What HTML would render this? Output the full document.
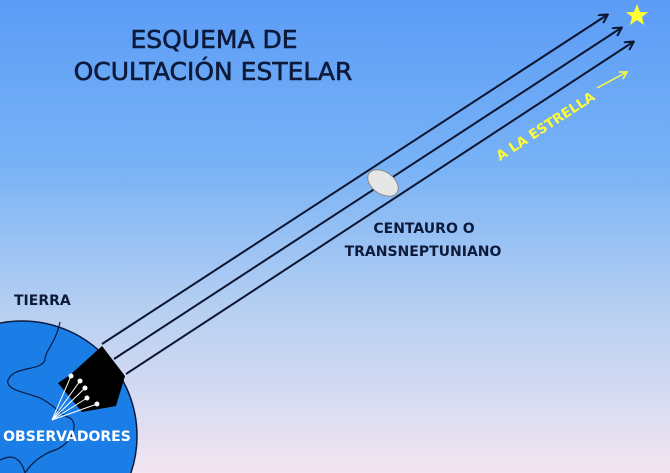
<!DOCTYPE html>
<html><head><style>
html,body{margin:0;padding:0;width:670px;height:473px;overflow:hidden}
body{background:linear-gradient(180deg,#5b9cf6 0%,#78b2f6 35%,#b5cff2 65%,#f3e5f1 100%);font-family:"DejaVu Sans","Liberation Sans",sans-serif}
svg{display:block}
</style></head><body>
<svg width="670" height="473" viewBox="0 0 670 473" xmlns="http://www.w3.org/2000/svg" style="position:absolute;left:0;top:0">
<defs><marker id="a" markerWidth="10" markerHeight="10" refX="8" refY="5" orient="auto" markerUnits="userSpaceOnUse"><path d="M0,0 L9,5 L0,10" fill="none" stroke="#0b1530" stroke-width="2"/></marker></defs>
<circle cx="22" cy="436" r="115" fill="#1a7ee6" stroke="#0a1a40" stroke-width="1.5"/>
<path d="M60,322 C55,345 45,350 45,360 C40,372 15,365 8,380 C5,390 25,392 40,398 C55,405 60,415 70,418 C80,425 70,445 55,450 C40,455 30,465 25,473" fill="none" stroke="#0a1a40" stroke-width="1.2"/>
<path d="M0,460 C10,455 20,455 25,473" fill="none" stroke="#0a1a40" stroke-width="1.2"/>
<path d="M102,346 L125,376 L116,406 L82,412 L58,383 L70,375 Z" fill="#000"/>
<g stroke="#fff" stroke-width="1"><line x1="52" y1="420" x2="71" y2="376"/><line x1="52" y1="420" x2="80" y2="381"/><line x1="52" y1="420" x2="85" y2="388"/><line x1="52" y1="420" x2="87" y2="398"/><line x1="52" y1="420" x2="97" y2="404"/></g>
<g fill="#fff"><circle cx="71" cy="376" r="2.5"/><circle cx="80" cy="381" r="2.5"/><circle cx="85" cy="388" r="2.5"/><circle cx="87" cy="398" r="2.5"/><circle cx="97" cy="404" r="2.5"/></g>
<g stroke="#0b1530" stroke-width="2" marker-end="url(#a)">
<line x1="102" y1="344" x2="607" y2="15"/>
<line x1="114" y1="359" x2="621" y2="28"/>
<line x1="126" y1="374" x2="633" y2="42"/>
</g>
<ellipse cx="383" cy="183" rx="17" ry="11" transform="rotate(35 383 183)" fill="#e6e6e6" stroke="#888" stroke-width="1"/>
<polygon points="637,4 640,12 648,12 642,17 644,25 637,20 630,25 632,17 626,12 634,12" fill="#ffff33"/>
<line x1="597" y1="88" x2="625" y2="73" stroke="#ffff33" stroke-width="1.5"/>
<path d="M619,72 L627,72 L623,79" fill="none" stroke="#ffff33" stroke-width="1.5"/>
<text x="548" y="130" transform="rotate(-33 548 130)" text-anchor="middle" font-size="13.5" font-weight="bold" fill="#ffff33">A LA ESTRELLA</text>
<text x="214" y="48" text-anchor="middle" font-size="25" fill="#0d1a3a" stroke="#0d1a3a" stroke-width="0.6">ESQUEMA DE</text>
<text x="213" y="80" text-anchor="middle" font-size="25" fill="#0d1a3a" stroke="#0d1a3a" stroke-width="0.6">OCULTACIÓN ESTELAR</text>
<text x="424" y="233" text-anchor="middle" font-size="14" font-weight="bold" fill="#0d1a3a">CENTAURO O</text>
<text x="423" y="256" text-anchor="middle" font-size="14" font-weight="bold" fill="#0d1a3a">TRANSNEPTUNIANO</text>
<text x="14" y="305" font-size="14" font-weight="bold" fill="#0d1a3a">TIERRA</text>
<text x="67" y="441" text-anchor="middle" font-size="14" font-weight="bold" fill="#fff">OBSERVADORES</text>
</svg>
</body></html>
